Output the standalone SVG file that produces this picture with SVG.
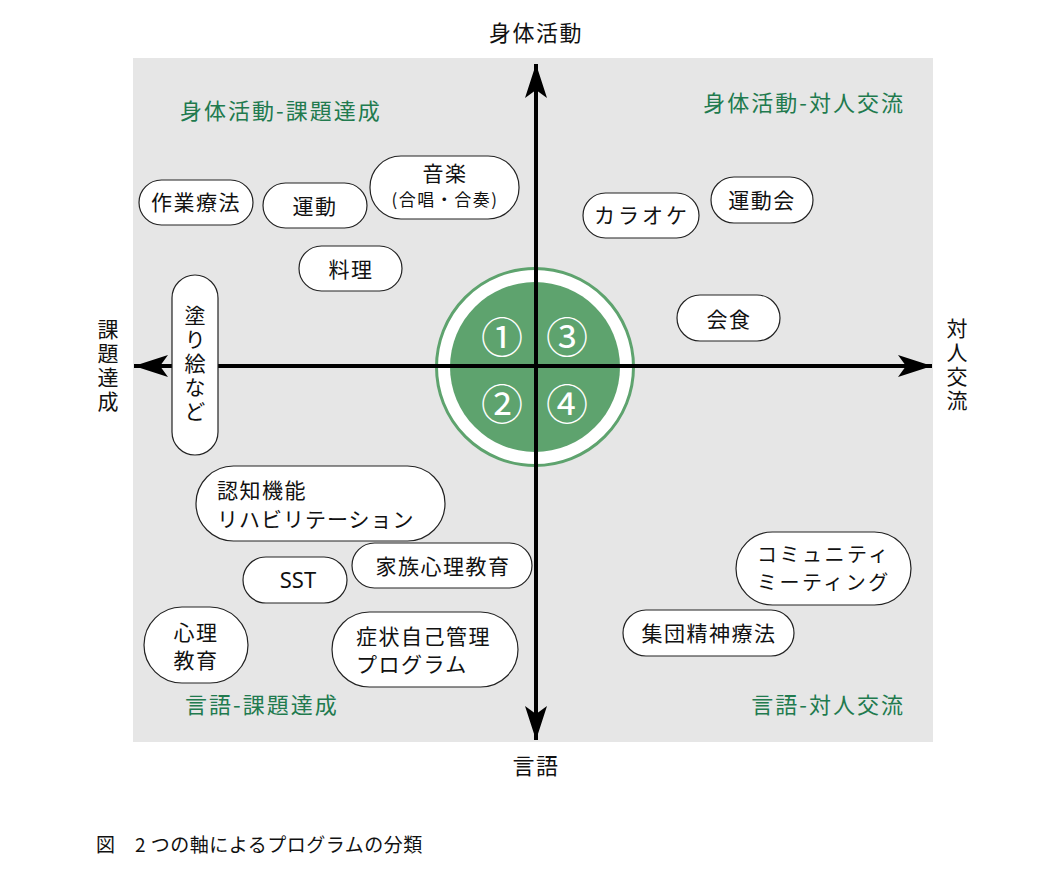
<svg xmlns="http://www.w3.org/2000/svg" width="1060" height="881" viewBox="0 0 1060 881">
<style>
text{font-family:"Noto Sans CJK JP","Noto Sans",sans-serif;fill:#111;}
.n{font-size:21px;letter-spacing:1.5px;}
.ax{font-size:22px;letter-spacing:1.5px;}
.vt{font-size:21px;letter-spacing:3px;writing-mode:vertical-rl;}
.q{font-size:22px;letter-spacing:2px;fill:#217a4e;}
.pill{fill:#fff;stroke:#222;stroke-width:1.2;}
.num{font-size:42px;fill:#fff;text-anchor:middle;dominant-baseline:central;}
.c{text-anchor:middle;}
</style>
<defs>
<marker id="ah" markerWidth="36" markerHeight="22" refX="34" refY="11" orient="auto" markerUnits="userSpaceOnUse">
<path d="M34,11 L0,0 L8,11 L0,22 Z" fill="#000"/>
</marker>
</defs>
<rect x="133" y="58" width="800" height="684" fill="#e6e6e6"/>

<g id="center">
<circle cx="535" cy="367" r="98.5" fill="#fff" stroke="#5ea36e" stroke-width="3"/>
<circle cx="535" cy="367" r="85" fill="#5ea36e"/>
</g>

<g id="axes">
<line x1="536" y1="740" x2="536" y2="64" stroke="#000" stroke-width="4" marker-end="url(#ah)"/>
<line x1="536" y1="366" x2="536" y2="740" stroke="#000" stroke-width="4" marker-end="url(#ah)"/>
<line x1="536" y1="366" x2="134" y2="366" stroke="#000" stroke-width="4" marker-end="url(#ah)"/>
<line x1="536" y1="366" x2="932" y2="366" stroke="#000" stroke-width="4" marker-end="url(#ah)"/>
</g>

<g id="numbers">
<text class="num" x="502" y="334">①</text>
<text class="num" x="567" y="334">③</text>
<text class="num" x="502" y="401">②</text>
<text class="num" x="567" y="401">④</text>
</g>

<g id="axis-labels">
<text class="ax c" x="536" y="41">身体活動</text>
<text class="ax c" x="536" y="774">言語</text>
<text class="vt" x="108" y="319">課題達成</text>
<text class="vt" x="957" y="318">対人交流</text>
</g>

<g id="quadrant-labels">
<text class="q" x="180" y="119">身体活動-課題達成</text>
<text class="q" x="905" y="111" text-anchor="end">身体活動-対人交流</text>
<text class="q" x="185" y="713">言語-課題達成</text>
<text class="q" x="905" y="713" text-anchor="end">言語-対人交流</text>
</g>

<g id="n-sagyo"><rect class="pill" x="139" y="180" width="114" height="45" rx="22.5"/><text class="n c" x="196" y="210">作業療法</text></g>
<g id="n-undo"><rect class="pill" x="263" y="183" width="104" height="45" rx="22.5"/><text class="n c" x="315" y="214">運動</text></g>
<g id="n-ongaku"><rect class="pill" x="370" y="156" width="149" height="63" rx="31"/><text class="c"><tspan class="n" x="445" y="181">音楽</tspan><tspan x="445" y="206" style="font-size:17px;letter-spacing:1.5px">(合唱・合奏)</tspan></text></g>
<g id="n-ryori"><rect class="pill" x="299" y="246" width="103" height="45" rx="22.5"/><text class="n c" x="351" y="277">料理</text></g>
<g id="n-karaoke"><rect class="pill" x="583" y="193" width="116" height="45" rx="22.5"/><text class="n c" x="642" y="223" style="letter-spacing:3px">カラオケ</text></g>
<g id="n-undokai"><rect class="pill" x="711" y="177" width="102" height="46" rx="23"/><text class="n c" x="762" y="208">運動会</text></g>
<g id="n-kaishoku"><rect class="pill" x="677" y="295" width="103" height="46" rx="23"/><text class="n c" x="729" y="327">会食</text></g>
<g id="n-nurie"><rect class="pill" x="172" y="275" width="46" height="180" rx="23"/><text class="vt" x="195" y="305">塗り絵など</text></g>
<g id="n-ninchi"><rect class="pill" x="196" y="466" width="249" height="75" rx="37.5"/><text class="n"><tspan x="217" y="498">認知機能</tspan><tspan x="217" y="527" style="letter-spacing:1px">リハビリテーション</tspan></text></g>
<g id="n-sst"><rect class="pill" x="243" y="557" width="104" height="46" rx="23"/><text class="c" x="298" y="588" style="font-size:22px;font-family:'Noto Sans',sans-serif">SST</text></g>
<g id="n-kazoku"><rect class="pill" x="352" y="543" width="180" height="45" rx="22.5"/><text class="n c" x="443" y="574">家族心理教育</text></g>
<g id="n-shinri"><rect class="pill" x="144" y="607" width="104" height="76" rx="38"/><text class="n c"><tspan x="196" y="640">心理</tspan><tspan x="196" y="668">教育</tspan></text></g>
<g id="n-shojo"><rect class="pill" x="332" y="612" width="186" height="75" rx="37.5"/><text class="n"><tspan x="356" y="644">症状自己管理</tspan><tspan x="356" y="672">プログラム</tspan></text></g>
<g id="n-community"><rect class="pill" x="736" y="532" width="175" height="73" rx="36.5"/><text style="font-size:20px;letter-spacing:2.5px"><tspan x="757" y="562">コミュニティ</tspan><tspan x="757" y="590">ミーティング</tspan></text></g>
<g id="n-shudan"><rect class="pill" x="623" y="610" width="171" height="46" rx="23"/><text class="n c" x="709" y="641">集団精神療法</text></g>

<text x="96" y="852" style="font-size:19px;letter-spacing:0.5px">図　2 つの軸によるプログラムの分類</text>
</svg>
